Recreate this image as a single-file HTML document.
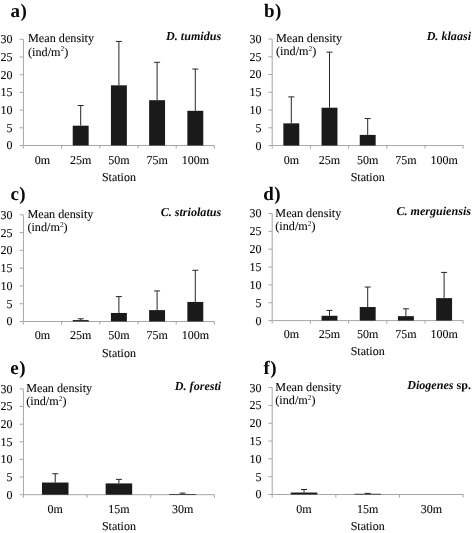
<!DOCTYPE html>
<html lang="en"><head><meta charset="utf-8"><title>Mean density by station</title>
<style>html,body{margin:0;padding:0;background:#fff}svg{display:block;filter:blur(0.35px)}text{font-family:"Liberation Serif","Times New Roman",serif;fill:#0a0a0a;text-rendering:geometricPrecision}.l{font-size:12.0px;stroke:#0a0a0a;stroke-width:0.1px}.m{font-size:12.2px}.t{font-size:12.1px;font-weight:bold;font-style:italic}.tb{font-style:normal}.p{font-size:19px;font-weight:bold;letter-spacing:0.5px}.ax{stroke:#a6a6a6;stroke-width:1;fill:none}.b{fill:#1a1a1a}.e{stroke:#262626;stroke-width:1;fill:none}</style></head><body>
<svg width="472" height="533" viewBox="0 0 472 533">
<rect width="472" height="533" fill="#fff"/>
<g>
<text class="p" x="10.5" y="17.2">a)</text>
<path class="ax" d="M23.40 39.30V145.50H214.40M23.40 145.50h-3.8M23.40 127.80h-3.8M23.40 110.10h-3.8M23.40 92.40h-3.8M23.40 74.70h-3.8M23.40 57.00h-3.8M23.40 39.30h-3.8M23.40 145.50v3.0M61.60 145.50v3.0M99.80 145.50v3.0M138.00 145.50v3.0M176.20 145.50v3.0M214.40 145.50v3.0"/>
<text class="l" text-anchor="end" x="12.6" y="149.4">0</text>
<text class="l" text-anchor="end" x="12.6" y="131.7">5</text>
<text class="l" text-anchor="end" x="12.6" y="114.0">10</text>
<text class="l" text-anchor="end" x="12.6" y="96.3">15</text>
<text class="l" text-anchor="end" x="12.6" y="78.6">20</text>
<text class="l" text-anchor="end" x="12.6" y="60.9">25</text>
<text class="l" text-anchor="end" x="12.6" y="43.2">30</text>
<text class="l" text-anchor="middle" x="42.5" y="163.7">0m</text>
<text class="l" text-anchor="middle" x="80.7" y="163.7">25m</text>
<rect class="b" x="72.74" y="125.68" width="15.92" height="19.82"/>
<path class="e" d="M80.70 125.68V105.50M77.70 105.50h6"/>
<text class="l" text-anchor="middle" x="118.9" y="163.7">50m</text>
<rect class="b" x="110.94" y="85.32" width="15.92" height="60.18"/>
<path class="e" d="M118.90 85.32V41.42M115.90 41.42h6"/>
<text class="l" text-anchor="middle" x="157.1" y="163.7">75m</text>
<rect class="b" x="149.14" y="100.19" width="15.92" height="45.31"/>
<path class="e" d="M157.10 100.19V62.31M154.10 62.31h6"/>
<text class="l" text-anchor="middle" x="195.3" y="163.7">100m</text>
<rect class="b" x="187.34" y="110.81" width="15.92" height="34.69"/>
<path class="e" d="M195.30 110.81V69.04M192.30 69.04h6"/>
<text class="l" text-anchor="middle" x="118.9" y="181.1">Station</text>
<text class="l m" x="28.0" y="42.4">Mean density</text>
<text class="l m" x="28.0" y="55.7">(ind/m<tspan font-size="7.4" stroke="none" dy="-4.3">2</tspan><tspan dy="4.3">)</tspan></text>
<text class="t" text-anchor="end" x="221.2" y="40.3" xml:space="preserve"><tspan>D. tumidus</tspan></text>
</g>
<g>
<text class="p" x="264.0" y="17.2">b)</text>
<path class="ax" d="M272.20 39.00V145.55H463.20M272.20 145.55h-3.8M272.20 127.79h-3.8M272.20 110.03h-3.8M272.20 92.28h-3.8M272.20 74.52h-3.8M272.20 56.76h-3.8M272.20 39.00h-3.8M272.20 145.55v3.0M310.40 145.55v3.0M348.60 145.55v3.0M386.80 145.55v3.0M425.00 145.55v3.0M463.20 145.55v3.0"/>
<text class="l" text-anchor="end" x="261.4" y="149.5">0</text>
<text class="l" text-anchor="end" x="261.4" y="131.7">5</text>
<text class="l" text-anchor="end" x="261.4" y="113.9">10</text>
<text class="l" text-anchor="end" x="261.4" y="96.2">15</text>
<text class="l" text-anchor="end" x="261.4" y="78.4">20</text>
<text class="l" text-anchor="end" x="261.4" y="60.7">25</text>
<text class="l" text-anchor="end" x="261.4" y="42.9">30</text>
<text class="l" text-anchor="middle" x="291.3" y="163.6">0m</text>
<rect class="b" x="283.34" y="123.35" width="15.92" height="22.20"/>
<path class="e" d="M291.30 123.35V96.89M288.30 96.89h6"/>
<text class="l" text-anchor="middle" x="329.5" y="163.6">25m</text>
<rect class="b" x="321.54" y="107.72" width="15.92" height="37.83"/>
<path class="e" d="M329.50 107.72V52.14M326.50 52.14h6"/>
<text class="l" text-anchor="middle" x="367.7" y="163.6">50m</text>
<rect class="b" x="359.74" y="134.90" width="15.92" height="10.66"/>
<path class="e" d="M367.70 134.90V118.56M364.70 118.56h6"/>
<text class="l" text-anchor="middle" x="405.9" y="163.6">75m</text>
<text class="l" text-anchor="middle" x="444.1" y="163.6">100m</text>
<text class="l" text-anchor="middle" x="367.7" y="180.8">Station</text>
<text class="l m" x="276.0" y="42.1">Mean density</text>
<text class="l m" x="276.0" y="55.4">(ind/m<tspan font-size="7.4" stroke="none" dy="-4.3">2</tspan><tspan dy="4.3">)</tspan></text>
<text class="t" text-anchor="end" x="471.0" y="40.0" xml:space="preserve"><tspan>D. klaasi</tspan></text>
</g>
<g>
<text class="p" x="10.4" y="200.2">c)</text>
<path class="ax" d="M23.40 214.80V321.50H214.40M23.40 321.50h-3.8M23.40 303.72h-3.8M23.40 285.93h-3.8M23.40 268.15h-3.8M23.40 250.37h-3.8M23.40 232.58h-3.8M23.40 214.80h-3.8M23.40 321.50v3.0M61.60 321.50v3.0M99.80 321.50v3.0M138.00 321.50v3.0M176.20 321.50v3.0M214.40 321.50v3.0"/>
<text class="l" text-anchor="end" x="12.6" y="325.4">0</text>
<text class="l" text-anchor="end" x="12.6" y="307.6">5</text>
<text class="l" text-anchor="end" x="12.6" y="289.8">10</text>
<text class="l" text-anchor="end" x="12.6" y="272.0">15</text>
<text class="l" text-anchor="end" x="12.6" y="254.3">20</text>
<text class="l" text-anchor="end" x="12.6" y="236.5">25</text>
<text class="l" text-anchor="end" x="12.6" y="218.7">30</text>
<text class="l" text-anchor="middle" x="42.5" y="339.4">0m</text>
<text class="l" text-anchor="middle" x="80.7" y="339.4">25m</text>
<rect class="b" x="72.74" y="320.08" width="15.92" height="1.42"/>
<path class="e" d="M80.70 320.08V318.83M77.70 318.83h6"/>
<text class="l" text-anchor="middle" x="118.9" y="339.4">50m</text>
<rect class="b" x="110.94" y="312.96" width="15.92" height="8.54"/>
<path class="e" d="M118.90 312.96V296.60M115.90 296.60h6"/>
<text class="l" text-anchor="middle" x="157.1" y="339.4">75m</text>
<rect class="b" x="149.14" y="310.12" width="15.92" height="11.38"/>
<path class="e" d="M157.10 310.12V290.91M154.10 290.91h6"/>
<text class="l" text-anchor="middle" x="195.3" y="339.4">100m</text>
<rect class="b" x="187.34" y="301.94" width="15.92" height="19.56"/>
<path class="e" d="M195.30 301.94V270.28M192.30 270.28h6"/>
<text class="l" text-anchor="middle" x="118.9" y="356.6">Station</text>
<text class="l m" x="27.4" y="217.9">Mean density</text>
<text class="l m" x="27.4" y="231.2">(ind/m<tspan font-size="7.4" stroke="none" dy="-4.3">2</tspan><tspan dy="4.3">)</tspan></text>
<text class="t" text-anchor="end" x="221.2" y="215.8" xml:space="preserve"><tspan>C. striolatus</tspan></text>
</g>
<g>
<text class="p" x="263.2" y="199.8">d)</text>
<path class="ax" d="M272.20 213.50V320.60H463.20M272.20 320.60h-3.8M272.20 302.75h-3.8M272.20 284.90h-3.8M272.20 267.05h-3.8M272.20 249.20h-3.8M272.20 231.35h-3.8M272.20 213.50h-3.8M272.20 320.60v3.0M310.40 320.60v3.0M348.60 320.60v3.0M386.80 320.60v3.0M425.00 320.60v3.0M463.20 320.60v3.0"/>
<text class="l" text-anchor="end" x="261.4" y="324.5">0</text>
<text class="l" text-anchor="end" x="261.4" y="306.6">5</text>
<text class="l" text-anchor="end" x="261.4" y="288.8">10</text>
<text class="l" text-anchor="end" x="261.4" y="270.9">15</text>
<text class="l" text-anchor="end" x="261.4" y="253.1">20</text>
<text class="l" text-anchor="end" x="261.4" y="235.3">25</text>
<text class="l" text-anchor="end" x="261.4" y="217.4">30</text>
<text class="l" text-anchor="middle" x="291.3" y="338.4">0m</text>
<text class="l" text-anchor="middle" x="329.5" y="338.4">25m</text>
<rect class="b" x="321.54" y="315.78" width="15.92" height="4.82"/>
<path class="e" d="M329.50 315.78V310.43M326.50 310.43h6"/>
<text class="l" text-anchor="middle" x="367.7" y="338.4">50m</text>
<rect class="b" x="359.74" y="307.03" width="15.92" height="13.57"/>
<path class="e" d="M367.70 307.03V287.04M364.70 287.04h6"/>
<text class="l" text-anchor="middle" x="405.9" y="338.4">75m</text>
<rect class="b" x="397.94" y="316.14" width="15.92" height="4.46"/>
<path class="e" d="M405.90 316.14V308.82M402.90 308.82h6"/>
<text class="l" text-anchor="middle" x="444.1" y="338.4">100m</text>
<rect class="b" x="436.14" y="298.11" width="15.92" height="22.49"/>
<path class="e" d="M444.10 298.11V272.41M441.10 272.41h6"/>
<text class="l" text-anchor="middle" x="367.7" y="355.4">Station</text>
<text class="l m" x="275.3" y="216.6">Mean density</text>
<text class="l m" x="275.3" y="229.9">(ind/m<tspan font-size="7.4" stroke="none" dy="-4.3">2</tspan><tspan dy="4.3">)</tspan></text>
<text class="t" text-anchor="end" x="471.0" y="214.5" xml:space="preserve"><tspan>C. merguiensis</tspan></text>
</g>
<g>
<text class="p" x="10.3" y="373.7">e)</text>
<path class="ax" d="M23.40 388.90V494.70H214.40M23.40 494.70h-3.8M23.40 477.07h-3.8M23.40 459.43h-3.8M23.40 441.80h-3.8M23.40 424.17h-3.8M23.40 406.53h-3.8M23.40 388.90h-3.8M23.40 494.70v3.0M87.07 494.70v3.0M150.73 494.70v3.0M214.40 494.70v3.0"/>
<text class="l" text-anchor="end" x="12.6" y="498.6">0</text>
<text class="l" text-anchor="end" x="12.6" y="481.0">5</text>
<text class="l" text-anchor="end" x="12.6" y="463.3">10</text>
<text class="l" text-anchor="end" x="12.6" y="445.7">15</text>
<text class="l" text-anchor="end" x="12.6" y="428.1">20</text>
<text class="l" text-anchor="end" x="12.6" y="410.4">25</text>
<text class="l" text-anchor="end" x="12.6" y="392.8">30</text>
<text class="l" text-anchor="middle" x="55.2" y="512.9">0m</text>
<rect class="b" x="41.97" y="482.53" width="26.53" height="12.17"/>
<path class="e" d="M55.23 482.53V473.72M52.23 473.72h6"/>
<text class="l" text-anchor="middle" x="118.9" y="512.9">15m</text>
<rect class="b" x="105.64" y="483.41" width="26.53" height="11.29"/>
<path class="e" d="M118.90 483.41V479.36M115.90 479.36h6"/>
<text class="l" text-anchor="middle" x="182.6" y="512.9">30m</text>
<rect class="b" x="169.30" y="493.99" width="26.53" height="0.71"/>
<path class="e" d="M182.57 493.99V493.11M179.57 493.11h6"/>
<text class="l" text-anchor="middle" x="118.9" y="530.3">Station</text>
<text class="l m" x="26.2" y="392.0">Mean density</text>
<text class="l m" x="26.2" y="405.3">(ind/m<tspan font-size="7.4" stroke="none" dy="-4.3">2</tspan><tspan dy="4.3">)</tspan></text>
<text class="t" text-anchor="end" x="221.2" y="389.9" xml:space="preserve"><tspan>D. foresti</tspan></text>
</g>
<g>
<text class="p" x="263.5" y="373.9">f)</text>
<path class="ax" d="M272.20 387.60V494.50H463.20M272.20 494.50h-3.8M272.20 476.68h-3.8M272.20 458.87h-3.8M272.20 441.05h-3.8M272.20 423.23h-3.8M272.20 405.42h-3.8M272.20 387.60h-3.8M272.20 494.50v3.0M335.87 494.50v3.0M399.53 494.50v3.0M463.20 494.50v3.0"/>
<text class="l" text-anchor="end" x="261.4" y="498.4">0</text>
<text class="l" text-anchor="end" x="261.4" y="480.6">5</text>
<text class="l" text-anchor="end" x="261.4" y="462.8">10</text>
<text class="l" text-anchor="end" x="261.4" y="444.9">15</text>
<text class="l" text-anchor="end" x="261.4" y="427.1">20</text>
<text class="l" text-anchor="end" x="261.4" y="409.3">25</text>
<text class="l" text-anchor="end" x="261.4" y="391.5">30</text>
<text class="l" text-anchor="middle" x="304.0" y="512.7">0m</text>
<rect class="b" x="290.77" y="492.54" width="26.53" height="1.96"/>
<path class="e" d="M304.03 492.54V489.51M301.03 489.51h6"/>
<text class="l" text-anchor="middle" x="367.7" y="512.7">15m</text>
<rect class="b" x="354.44" y="493.79" width="26.53" height="0.71"/>
<path class="e" d="M367.70 493.79V493.36M364.70 493.36h6"/>
<text class="l" text-anchor="middle" x="431.4" y="512.7">30m</text>
<text class="l" text-anchor="middle" x="367.7" y="529.7">Station</text>
<text class="l m" x="275.3" y="390.7">Mean density</text>
<text class="l m" x="275.3" y="404.0">(ind/m<tspan font-size="7.4" stroke="none" dy="-4.3">2</tspan><tspan dy="4.3">)</tspan></text>
<text class="t" text-anchor="end" x="471.0" y="388.6" xml:space="preserve"><tspan>Diogenes</tspan><tspan class="tb"> sp.</tspan></text>
</g>
</svg></body></html>
